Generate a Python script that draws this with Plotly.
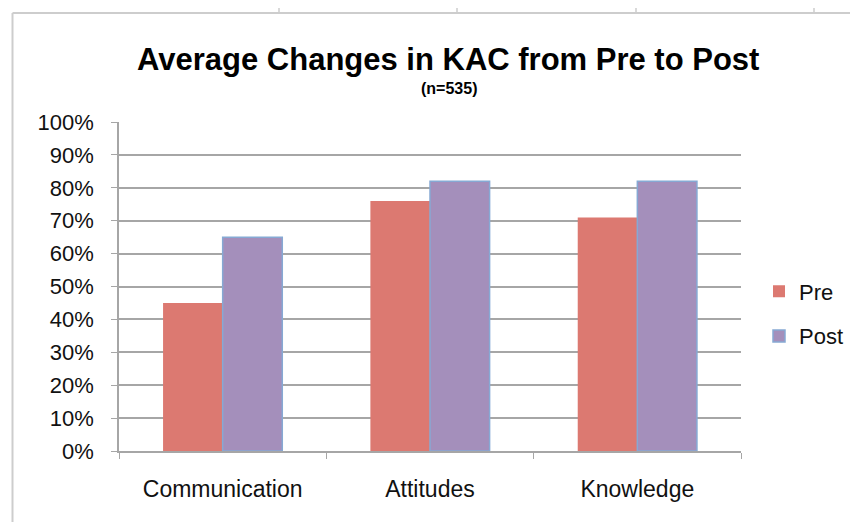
import plotly.graph_objects as go

categories = ["Communication", "Attitudes", "Knowledge"]
pre_values = [0.45, 0.76, 0.71]
post_values = [0.65, 0.82, 0.82]
y_ticks = [0, 0.1, 0.2, 0.3, 0.4, 0.5, 0.6, 0.7, 0.8, 0.9, 1.0]
y_tick_labels = ["0%", "10%", "20%", "30%", "40%", "50%", "60%", "70%", "80%", "90%", "100%"]

FONT = "Liberation Sans, Arial, sans-serif"

# reference plot area (page pixels): x 119..741, y 122..451
PL, PR, PT, PB = 119, 741, 122, 451
PW, PH = PR - PL, PB - PT
OFF = 8  # page body margin


def px_x(x):
    return (x - PL) / PW


def px_y(y):
    return (PB - y) / PH


fig = go.Figure()
fig.add_trace(go.Bar(
    name="Pre", x=categories, y=pre_values,
    marker=dict(color="#DC7971", line=dict(width=0)),
    legendgroup="pre",
))
fig.add_trace(go.Bar(
    name="Post", x=categories, y=post_values,
    marker=dict(color="#A48FBB", line=dict(color="#86A9D4", width=1.5)),
    legendgroup="post",
))

fig.update_layout(
    width=858, height=522,
    paper_bgcolor="white", plot_bgcolor="white",
    margin=dict(l=PL - OFF, r=858 - (PL - OFF) - PW, t=PT - OFF, b=522 - (PT - OFF) - PH, autoexpand=False),
    barmode="group", bargap=0.425, bargroupgap=0,
    font=dict(family=FONT, color="#111111"),
    showlegend=True,
    legend=dict(
        x=px_x(759), xanchor="left", y=px_y(314), yanchor="middle",
        font=dict(size=22, family=FONT, color="#111111"),
        tracegroupgap=13, itemwidth=30,
        bgcolor="rgba(0,0,0,0)",
    ),
    xaxis=dict(
        showline=True, linecolor="#A6A6A6", linewidth=1.5,
        ticks="outside", tickson="boundaries", ticklen=6, tickcolor="#A6A6A6",
        tickfont=dict(size=23, family=FONT, color="#111111"),
        ticklabelstandoff=17,
        showgrid=False,
    ),
    yaxis=dict(
        range=[0, 1.0], tickvals=y_ticks, ticktext=y_tick_labels,
        showline=True, linecolor="#A6A6A6", linewidth=1.5,
        ticks="outside", ticklen=6, tickcolor="#A6A6A6",
        ticklabelstandoff=13,
        showgrid=True, gridcolor="#A6A6A6", gridwidth=1.5,
        tickfont=dict(size=22, family=FONT, color="#111111"),
        zeroline=False,
    ),
    annotations=[
        dict(text="<b>Average Changes in KAC from Pre to Post</b>",
             xref="paper", yref="paper", x=px_x(448), y=px_y(59),
             xanchor="center", yanchor="middle", showarrow=False,
             font=dict(size=31, family=FONT, color="#000000")),
        dict(text="<b>(n=535)</b>",
             xref="paper", yref="paper", x=px_x(449), y=px_y(89),
             xanchor="center", yanchor="middle", showarrow=False,
             font=dict(size=16, family=FONT, color="#000000")),
    ],
    shapes=[
        dict(type="line", xref="paper", yref="paper",
             x0=px_x(12.5), x1=px_x(12.5), y0=px_y(530), y1=px_y(13),
             line=dict(color="#CDCDCD", width=2)),
        dict(type="line", xref="paper", yref="paper",
             x0=px_x(12.5), x1=px_x(870), y0=px_y(13), y1=px_y(13),
             line=dict(color="#CDCDCD", width=2)),
    ] + [
        dict(type="line", xref="paper", yref="paper",
             x0=px_x(p), x1=px_x(p), y0=px_y(13), y1=px_y(6),
             line=dict(color="#CDCDCD", width=1.5))
        for p in [279, 457, 636, 814]
    ],
)

fig.write_html("out.html")
